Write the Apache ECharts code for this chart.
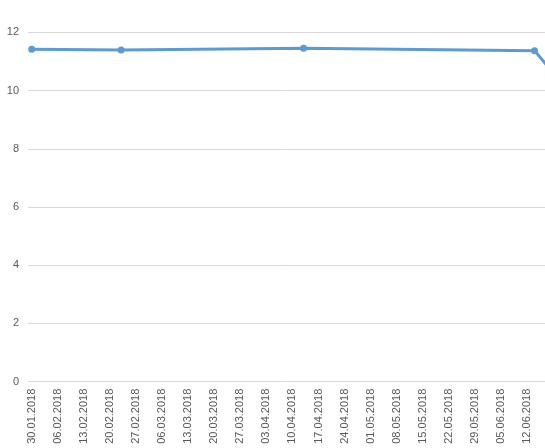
<!DOCTYPE html>
<html>
<head>
<meta charset="utf-8">
<script src="https://cdn.jsdelivr.net/npm/echarts@6/dist/echarts.min.js"></script>
<style>
html,body{margin:0;padding:0;background:#fff;}
#c{width:545px;height:448px;}
</style>
</head>
<body>
<div id="c"></div>
<script>
// Data
var dates = ["30.01.2018", "23.02.2018", "13.04.2018", "14.06.2018", "21.06.2018"];
var values = [11.42, 11.39, 11.45, 11.37, 10.3];
var tickLabels = ["30.01.2018","06.02.2018","13.02.2018","20.02.2018","27.02.2018","06.03.2018",
  "13.03.2018","20.03.2018","27.03.2018","03.04.2018","10.04.2018","17.04.2018","24.04.2018",
  "01.05.2018","08.05.2018","15.05.2018","22.05.2018","29.05.2018","05.06.2018","12.06.2018"];
var yTicks = [0, 2, 4, 6, 8, 10, 12];

function parseDate(s) {
  var p = s.split(".");
  return Date.UTC(+p[2], +p[1] - 1, +p[0]);
}
function pad(n) { return (n < 10 ? "0" : "") + n; }
function fmt(ts) {
  var d = new Date(ts);
  return pad(d.getUTCDate()) + "." + pad(d.getUTCMonth() + 1) + "." + d.getUTCFullYear();
}
var DAY = 86400000;
var xMin = parseDate("29.01.2018");
var xMax = xMin + 138.8 * DAY;
var tickVals = tickLabels.map(parseDate);
var seriesData = dates.map(function (d, i) { return [parseDate(d), values[i]]; });

var chart = echarts.init(document.getElementById('c'));
chart.setOption({
  animation: false,
  grid: { left: 28, right: 0, top: 32.3, bottom: 66.3, containLabel: false },
  xAxis: {
    type: 'value',
    min: xMin,
    max: xMax,
    axisLine: { show: false },
    axisTick: { show: false },
    splitLine: { show: false },
    axisLabel: {
      customValues: tickVals,
      rotate: 90,
      margin: 7,
      fontSize: 11,
      color: '#595959',
      fontFamily: 'Liberation Sans, Arial, sans-serif',
      hideOverlap: false,
      showMinLabel: true,
      showMaxLabel: true,
      formatter: function (v) { return fmt(v); }
    }
  },
  yAxis: {
    type: 'value',
    min: yTicks[0],
    max: yTicks[yTicks.length - 1],
    interval: 2,
    axisLine: { show: false },
    axisTick: { show: false },
    splitLine: { show: true, lineStyle: { color: '#d9d9d9', width: 1 } },
    axisLabel: {
      margin: 9,
      fontSize: 11,
      color: '#595959',
      fontFamily: 'Liberation Sans, Arial, sans-serif'
    }
  },
  series: [{
    type: 'line',
    data: seriesData,
    clip: true,
    symbol: 'circle',
    symbolSize: 7,
    lineStyle: { color: '#5b9bd5', width: 3 },
    itemStyle: { color: '#5b9bd5' }
  }]
});
</script>
</body>
</html>
